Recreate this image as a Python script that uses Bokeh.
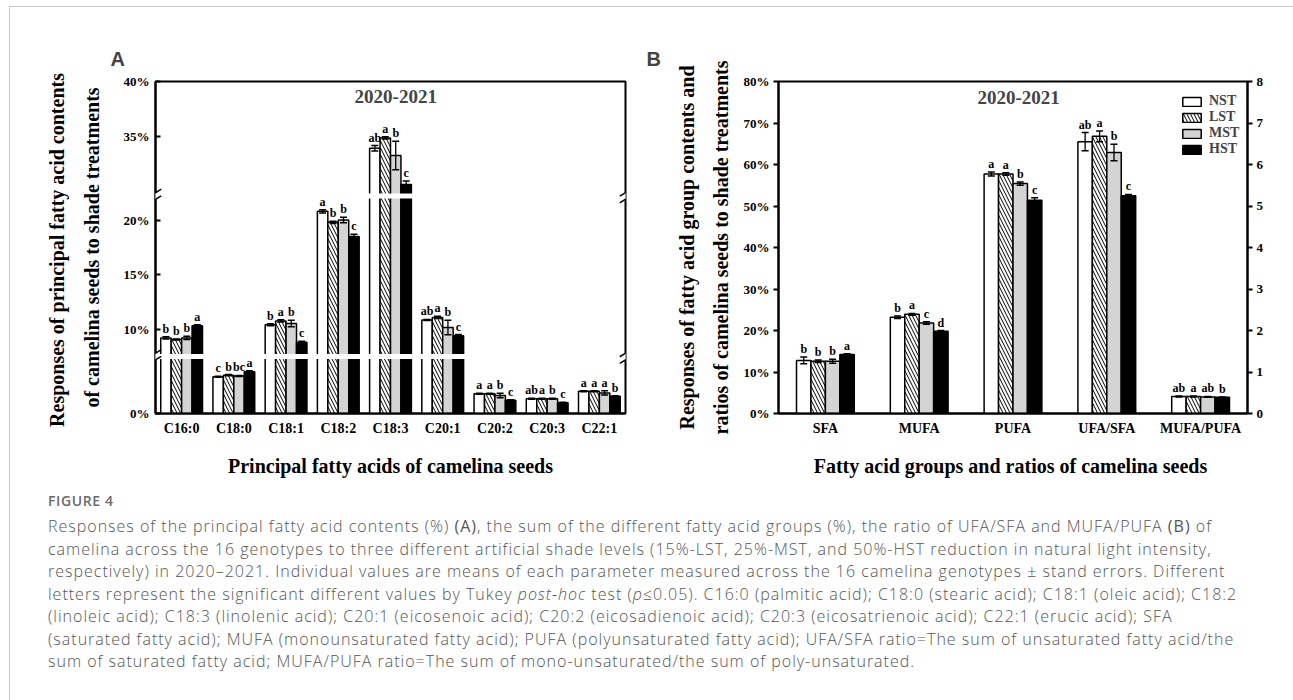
from bokeh.plotting import figure
from bokeh.models import (ColumnDataSource, FactorRange, Range1d, LinearAxis, FixedTicker,
                          Label, BoxAnnotation, Arrow, Legend, LegendItem, Div,
                          PrintfTickFormatter, Column, Row)
from bokeh.transform import dodge
from bokeh.embed import file_html
from bokeh.resources import INLINE
from bokeh.core.properties import value

# ---------------- Data: panel A (principal fatty acids, %) ----------------
treatments = ["NST", "LST", "MST", "HST"]
fa_cats = ["C16:0", "C18:0", "C18:1", "C18:2", "C18:3", "C20:1", "C20:2", "C20:3", "C22:1"]
fa_NST = [9.25, 3.36, 10.45, 20.8, 33.9, 10.88, 1.80, 1.34, 2.03]
fa_LST = [9.10, 3.50, 10.80, 19.8, 34.85, 11.12, 1.80, 1.34, 2.03]
fa_MST = [9.25, 3.42, 10.57, 20.0, 33.25, 10.20, 1.64, 1.34, 1.88]
fa_HST = [10.36, 3.80, 8.85, 18.5, 30.6, 9.45, 1.20, 0.97, 1.57]
fa_err_NST = [0.10, 0.05, 0.10, 0.15, 0.25, 0.05, 0.05, 0.05, 0.05]
fa_err_LST = [0.05, 0.05, 0.10, 0.10, 0.10, 0.10, 0.05, 0.05, 0.05]
fa_err_MST = [0.15, 0.05, 0.30, 0.25, 1.30, 0.67, 0.20, 0.05, 0.20]
fa_err_HST = [0.10, 0.10, 0.10, 0.20, 0.33, 0.10, 0.05, 0.05, 0.05]
fa_sig_NST = ["b", "c", "b", "a", "ab", "ab", "a", "ab", "a"]
fa_sig_LST = ["b", "b", "a", "b", "a", "a", "a", "a", "a"]
fa_sig_MST = ["b", "bc", "b", "b", "b", "b", "b", "b", "a"]
fa_sig_HST = ["a", "a", "c", "c", "c", "c", "c", "c", "b"]
fa_ticks = [0, 10, 15, 20, 35, 40]
fa_segments = [(0.0, 5.2), (7.55, 22.2), (29.55, 40.0)]   # broken y axis pieces

# ---------------- Data: panel B (groups %, ratios) ----------------
grp_cats = ["SFA", "MUFA", "PUFA", "UFA/SFA", "MUFA/PUFA"]
pct_cats = ["SFA", "MUFA", "PUFA"]
ratio_cats = ["UFA/SFA", "MUFA/PUFA"]
pct_NST = [12.8, 23.2, 57.7]
pct_LST = [12.6, 23.9, 57.7]
pct_MST = [12.6, 21.8, 55.4]
pct_HST = [14.2, 19.8, 51.4]
pct_err_NST = [0.8, 0.3, 0.5]
pct_err_LST = [0.3, 0.2, 0.3]
pct_err_MST = [0.5, 0.3, 0.4]
pct_err_HST = [0.2, 0.2, 0.6]
pct_sig_NST = ["b", "b", "a"]
pct_sig_LST = ["b", "a", "a"]
pct_sig_MST = ["b", "c", "b"]
pct_sig_HST = ["a", "d", "c"]
ratio_NST = [6.55, 0.41]
ratio_LST = [6.68, 0.41]
ratio_MST = [6.29, 0.40]
ratio_HST = [5.25, 0.39]
ratio_err_NST = [0.22, 0.01]
ratio_err_LST = [0.13, 0.01]
ratio_err_MST = [0.20, 0.01]
ratio_err_HST = [0.03, 0.01]
ratio_sig_NST = ["ab", "ab"]
ratio_sig_LST = ["a", "a"]
ratio_sig_MST = ["b", "ab"]
ratio_sig_HST = ["c", "b"]

caption_lines = [
    "Responses of the principal fatty acid contents (%) <b>(A)</b>, the sum of the different fatty acid groups (%), the ratio of UFA/SFA and MUFA/PUFA <b>(B)</b> of",
    "camelina across the 16 genotypes to three different artificial shade levels (15%-LST, 25%-MST, and 50%-HST reduction in natural light intensity,",
    "respectively) in 2020\u20132021. Individual values are means of each parameter measured across the 16 camelina genotypes \u00b1 stand errors. Different",
    "letters represent the significant different values by Tukey <i>post-hoc</i> test (<i>p</i>\u22640.05). C16:0 (palmitic acid); C18:0 (stearic acid); C18:1 (oleic acid); C18:2",
    "(linoleic acid); C18:3 (linolenic acid); C20:1 (eicosenoic acid); C20:2 (eicosadienoic acid); C20:3 (eicosatrienoic acid); C22:1 (erucic acid); SFA",
    "(saturated fatty acid); MUFA (monounsaturated fatty acid); PUFA (polyunsaturated fatty acid); UFA/SFA ratio=The sum of unsaturated fatty acid/the",
    "sum of saturated fatty acid; MUFA/PUFA ratio=The sum of mono-unsaturated/the sum of poly-unsaturated.",
]

SERIF = "Liberation Serif"
FILLS = {"NST": "white", "LST": "white", "MST": "#d4d4d4", "HST": "black"}
HATCH = {"NST": None, "LST": "left_diagonal_line", "MST": None, "HST": None}


def a_axis(v):
    """Map a real % value onto the broken (compressed) axis of panel A."""
    base = 0.0
    for i, (lo, hi) in enumerate(fa_segments):
        if v <= hi or i == len(fa_segments) - 1:
            return base + (v - lo if i else v)
        base += hi - lo
    return base


a_breaks = []
_b = 0.0
for lo, hi in fa_segments[:-1]:
    _b += hi - lo
    a_breaks.append(_b)


def style_fig(p):
    p.xgrid.visible = False
    p.ygrid.visible = False
    p.outline_line_color = "black"
    p.outline_line_width = 2
    p.background_fill_color = "white"
    p.border_fill_color = "white"


def style_axis(ax, size="13px"):
    ax.axis_line_width = 2
    ax.major_tick_line_width = 2
    ax.minor_tick_line_color = None
    ax.major_label_text_font = SERIF
    ax.major_label_text_font_style = "bold"
    ax.major_label_text_font_size = size
    ax.major_label_text_color = "black"


def style_label(ax, text, standoff, size="20px"):
    ax.axis_label = text
    ax.axis_label_text_font = SERIF
    ax.axis_label_text_font_style = "bold"
    ax.axis_label_text_font_size = size
    ax.axis_label_text_color = "black"
    ax.axis_label_standoff = standoff


def title_axis(p, text, standoff):
    ax = LinearAxis(ticker=FixedTicker(ticks=[]), axis_line_color=None, major_tick_line_color=None,
                    minor_tick_line_color=None, major_label_standoff=0)
    style_label(ax, text, standoff)
    p.add_layout(ax, "left")


def bar_set(p, cats, vals, errs, sigs, off, width, trt, mapf, range_name="default"):
    src = ColumnDataSource(dict(
        cat=cats,
        top=[mapf(v) for v in vals],
        up=[mapf(v + e) for v, e in zip(vals, errs)],
        lo=[mapf(v - e) for v, e in zip(vals, errs)],
        sig=sigs,
    ))
    xs = dodge("cat", off, range=p.x_range)
    kw = dict(hatch_pattern=HATCH[trt], hatch_color="black", hatch_scale=7, hatch_weight=1) if HATCH[trt] else {}
    r = p.vbar(x=xs, top="top", bottom=0, width=width, source=src, fill_color=FILLS[trt],
               line_color="black", line_width=1.5, y_range_name=range_name, **kw)
    p.segment(x0=xs, x1=xs, y0="lo", y1="up", source=src, line_color="black", line_width=1.3,
              y_range_name=range_name)
    p.scatter(x=xs, y="up", source=src, marker="dash", size=7, line_color="black", line_width=1.5,
              y_range_name=range_name)
    p.scatter(x=xs, y="lo", source=src, marker="dash", size=7, line_color="black", line_width=1.5,
              y_range_name=range_name)
    p.text(x=xs, y="up", text="sig", source=src, text_align="center", text_baseline="bottom",
           y_offset=-1, text_font=value(SERIF), text_font_style="bold", text_font_size="12px",
           text_color="black", y_range_name=range_name)
    return r


def panel_title(p, text, offset):
    p.title.text = text
    p.title.text_font = "Liberation Sans"
    p.title.text_font_style = "bold"
    p.title.text_font_size = "20px"
    p.title.align = "left"
    p.title.offset = offset
    p.title.standoff = 24


# ---------------- Panel A ----------------
pA = figure(x_range=FactorRange(factors=fa_cats, range_padding=0),
            y_range=Range1d(0, a_axis(40)),
            width=630, height=483, min_border_left=145, min_border_right=15,
            min_border_top=74, min_border_bottom=77,
            output_backend="svg", toolbar_location=None)
style_fig(pA)
panel_title(pA, "A", -45)
style_axis(pA.yaxis[0])
pA.yaxis.ticker = FixedTicker(ticks=[a_axis(t) for t in fa_ticks])
pA.yaxis.major_label_overrides = {a_axis(t): f"{t}%" for t in fa_ticks}
pA.yaxis.major_tick_in = 5
pA.yaxis.major_tick_out = 0
pA.yaxis.major_label_standoff = 6
style_label(pA.yaxis[0], "of camelina seeds to shade treatments", 18)
title_axis(pA, "Responses of  principal fatty acid contents", 10)
style_axis(pA.xaxis[0], "14px")
pA.xaxis.major_tick_line_color = None
pA.xaxis.major_label_standoff = 1
style_label(pA.xaxis[0], "Principal fatty acids of camelina seeds", 16)

offA = [-0.3, -0.1, 0.1, 0.3]
fa_vals = [fa_NST, fa_LST, fa_MST, fa_HST]
fa_errs = [fa_err_NST, fa_err_LST, fa_err_MST, fa_err_HST]
fa_sigs = [fa_sig_NST, fa_sig_LST, fa_sig_MST, fa_sig_HST]
for t, vals, errs, sigs, off in zip(treatments, fa_vals, fa_errs, fa_sigs, offA):
    bar_set(pA, fa_cats, vals, errs, sigs, off, 0.2, t, a_axis)

# axis breaks: white gap across the bars plus "//" marks on both axes
for b in a_breaks:
    pA.add_layout(BoxAnnotation(bottom=b - 0.22, top=b + 0.22, fill_color="white", fill_alpha=1,
                                line_color=None, level="annotation"))
    for xe in [0, len(fa_cats)]:
        pA.add_layout(Arrow(x_start=xe, y_start=b - 0.3, x_end=xe, y_end=b + 0.3, end=None,
                            line_color="white", line_width=6))
        for yc in [b - 0.3, b + 0.3]:
            pA.add_layout(Arrow(x_start=xe - 0.11, y_start=yc - 0.32, x_end=xe + 0.11, y_end=yc + 0.32,
                                end=None, line_color="black", line_width=1.5))

pA.add_layout(Label(x=4.6, y=28.9, text="2020-2021", text_font=SERIF, text_font_style="bold",
                    text_font_size="19px", text_align="center", text_baseline="middle"))

# ---------------- Panel B ----------------
pB = figure(x_range=FactorRange(factors=grp_cats, range_padding=0), y_range=Range1d(0, 80),
            width=643, height=483, min_border_left=138, min_border_right=36,
            min_border_top=74, min_border_bottom=77,
            output_backend="svg", toolbar_location=None)
style_fig(pB)
panel_title(pB, "B", -132)
pB.extra_y_ranges = {"ratio": Range1d(0, 8)}
style_axis(pB.yaxis[0])
pB.yaxis.ticker = FixedTicker(ticks=list(range(0, 81, 10)))
pB.yaxis.formatter = PrintfTickFormatter(format="%d%%")
pB.yaxis.major_tick_in = 0
pB.yaxis.major_tick_out = 5
pB.yaxis.major_label_standoff = 4
style_label(pB.yaxis[0], "ratios of camelina seeds to shade treatments", 9)
title_axis(pB, "Responses of fatty acid group contents and", 9)
rax = LinearAxis(y_range_name="ratio", ticker=FixedTicker(ticks=list(range(0, 9))))
style_axis(rax)
rax.major_tick_in = 0
rax.major_tick_out = 5
rax.major_label_standoff = 4
pB.add_layout(rax, "right")
style_axis(pB.xaxis[0], "14px")
pB.xaxis.major_tick_line_color = None
pB.xaxis.major_label_standoff = 1
style_label(pB.xaxis[0], "Fatty acid groups and ratios  of camelina seeds", 16)

offB = [-0.231, -0.077, 0.077, 0.231]
pct_vals = [pct_NST, pct_LST, pct_MST, pct_HST]
pct_errs = [pct_err_NST, pct_err_LST, pct_err_MST, pct_err_HST]
pct_sigs = [pct_sig_NST, pct_sig_LST, pct_sig_MST, pct_sig_HST]
ratio_vals = [ratio_NST, ratio_LST, ratio_MST, ratio_HST]
ratio_errs = [ratio_err_NST, ratio_err_LST, ratio_err_MST, ratio_err_HST]
ratio_sigs = [ratio_sig_NST, ratio_sig_LST, ratio_sig_MST, ratio_sig_HST]
items = []
for i, t in enumerate(treatments):
    r = bar_set(pB, pct_cats, pct_vals[i], pct_errs[i], pct_sigs[i], offB[i], 0.154, t, lambda v: v)
    bar_set(pB, ratio_cats, ratio_vals[i], ratio_errs[i], ratio_sigs[i], offB[i], 0.154, t,
            lambda v: v, range_name="ratio")
    items.append(LegendItem(label=t, renderers=[r]))

legend = Legend(items=items, location=(402, 256), orientation="vertical",
                background_fill_alpha=0, border_line_color=None, padding=0, margin=0,
                spacing=0, glyph_width=23, glyph_height=11, label_height=11, label_standoff=6,
                label_text_font=SERIF, label_text_font_style="bold", label_text_font_size="14px",
                label_text_baseline="middle")
pB.add_layout(legend)

pB.add_layout(Label(x=2.56, y=76.2, text="2020-2021", text_font=SERIF, text_font_style="bold",
                    text_font_size="19px", text_align="center", text_baseline="middle"))

# ---------------- Caption ----------------
cap_html = (
    "<div style=\"margin:-3px 0 0 33px; font-family:'Open Sans', sans-serif;\">"
    "<div style=\"font-size:14px; font-weight:600; color:#6a6a6a; line-height:18px; letter-spacing:0.6px;\">FIGURE 4</div>"
    "<div style=\"margin-top:5px; font-size:16px; font-weight:300; color:#555555; line-height:22.5px; "
    "letter-spacing:1px; white-space:nowrap;\">"
    + "<br>".join(caption_lines) + "</div></div>"
)
div = Div(text=cap_html, width=1273, height=200)

layout = Column(children=[Row(children=[pA, pB]), div],
                styles={"margin-left": "9px", "margin-top": "6px",
                        "border-left": "1px solid #c8c8c8", "border-top": "1px solid #c8c8c8"})

with open("out.html", "w") as f:
    f.write(file_html(layout, INLINE))
